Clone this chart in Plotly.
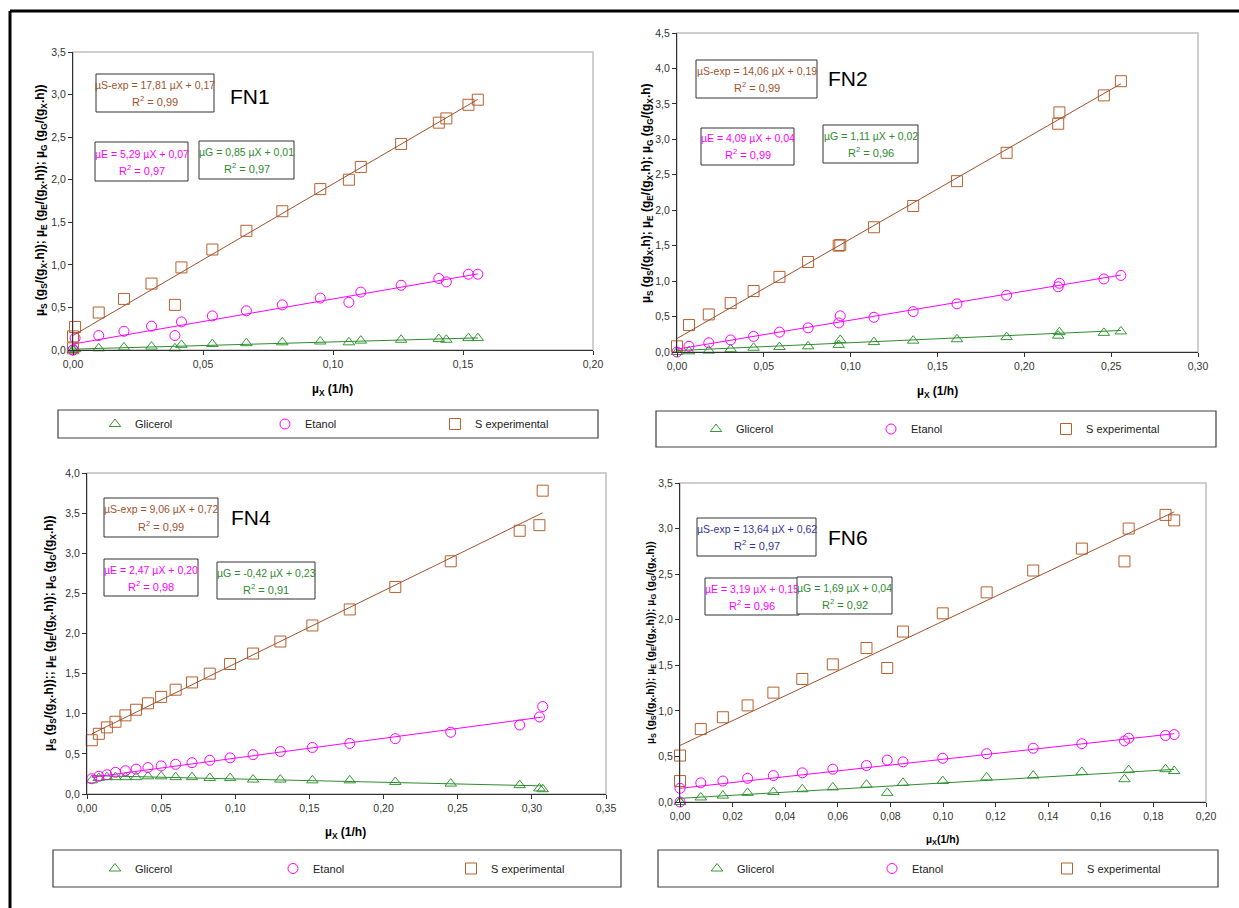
import plotly.graph_objects as go

W, H = 1239, 908
FONT = "Liberation Sans, Arial, sans-serif"

# ---------------- data ----------------
series_names = ["Glicerol", "Etanol", "S experimental"]

# FN1
fn1_x = [0.0, 0.0, 0.0008, 0.0099, 0.0196, 0.0302, 0.0392, 0.0417, 0.0536, 0.0667, 0.0805,
         0.0951, 0.1061, 0.1107, 0.1262, 0.1407, 0.1436, 0.1521, 0.1557]
fn1_s = [0.02, 0.16, 0.27, 0.44, 0.60, 0.78, 0.53, 0.97, 1.18, 1.40, 1.63,
         1.89, 2.00, 2.15, 2.42, 2.67, 2.72, 2.88, 2.94]
fn1_e = [0.0, 0.0, 0.14, 0.17, 0.22, 0.28, 0.17, 0.33, 0.40, 0.46, 0.53,
         0.61, 0.56, 0.68, 0.76, 0.84, 0.80, 0.89, 0.89]
fn1_g = [0.0, 0.0, 0.01, 0.02, 0.03, 0.04, 0.02, 0.06, 0.07, 0.08, 0.09,
         0.10, 0.09, 0.11, 0.12, 0.13, 0.12, 0.14, 0.14]
fn1_fit = {"S": (17.81, 0.17), "E": (5.29, 0.07), "G": (0.85, 0.01)}
fn1_r2 = ["0,99", "0,97", "0,97"]

# FN2
fn2_x = [0.0, 0.0069, 0.0183, 0.0309, 0.0441, 0.059, 0.0755, 0.0931, 0.094, 0.1134, 0.136,
         0.1612, 0.1898, 0.2195, 0.2202, 0.2458, 0.2556]
fn2_s = [0.08, 0.38, 0.53, 0.69, 0.86, 1.06, 1.27, 1.50, 1.51, 1.76, 2.06,
         2.41, 2.81, 3.22, 3.38, 3.62, 3.82]
fn2_e = [0.0, 0.08, 0.13, 0.17, 0.22, 0.28, 0.34, 0.41, 0.51, 0.49, 0.57,
         0.68, 0.80, 0.92, 0.97, 1.03, 1.08]
fn2_g = [0.0, 0.01, 0.02, 0.04, 0.06, 0.07, 0.08, 0.10, 0.17, 0.14, 0.16,
         0.18, 0.21, 0.23, 0.28, 0.27, 0.29]
fn2_fit = {"S": (14.06, 0.19), "E": (4.09, 0.04), "G": (1.11, 0.02)}
fn2_r2 = ["0,99", "0,99", "0,96"]

# FN4
fn4_x = [0.0032, 0.008, 0.0134, 0.0192, 0.0259, 0.0331, 0.0411, 0.05, 0.0598, 0.0708, 0.0828,
         0.0965, 0.112, 0.1304, 0.152, 0.1772, 0.2079, 0.2453, 0.2918, 0.3051, 0.3073]
fn4_s = [0.67, 0.75, 0.83, 0.90, 0.98, 1.05, 1.13, 1.21, 1.30, 1.39, 1.50,
         1.62, 1.75, 1.90, 2.10, 2.30, 2.58, 2.90, 3.28, 3.35, 3.78]
fn4_e = [0.19, 0.22, 0.24, 0.27, 0.29, 0.31, 0.33, 0.35, 0.37, 0.39, 0.42,
         0.45, 0.49, 0.53, 0.58, 0.63, 0.69, 0.77, 0.86, 0.96, 1.09]
fn4_g = [0.17, 0.20, 0.21, 0.21, 0.21, 0.21, 0.22, 0.22, 0.21, 0.21, 0.20,
         0.20, 0.18, 0.18, 0.17, 0.17, 0.15, 0.13, 0.11, 0.07, 0.06]
fn4_fit = {"S": (9.06, 0.72), "E": (2.47, 0.20), "G": (-0.42, 0.23)}
fn4_r2 = ["0,99", "0,98", "0,91"]

# FN6
fn6_x = [0.0, 0.0, 0.0079, 0.0163, 0.0257, 0.0355, 0.0465, 0.0581, 0.0709, 0.0788, 0.0848,
         0.0999, 0.1166, 0.1343, 0.1528, 0.169, 0.1706, 0.1846, 0.1879]
fn6_s = [0.51, 0.23, 0.80, 0.93, 1.06, 1.20, 1.35, 1.51, 1.69, 1.47, 1.87,
         2.07, 2.30, 2.54, 2.78, 2.64, 3.00, 3.15, 3.09]
fn6_e = [0.0, 0.15, 0.21, 0.23, 0.26, 0.29, 0.32, 0.36, 0.40, 0.46, 0.44,
         0.48, 0.53, 0.59, 0.64, 0.67, 0.70, 0.73, 0.74]
fn6_g = [0.0, 0.0, 0.05, 0.07, 0.10, 0.11, 0.14, 0.16, 0.19, 0.10, 0.21,
         0.23, 0.27, 0.29, 0.33, 0.25, 0.35, 0.36, 0.34]
fn6_fit = {"S": (13.64, 0.62), "E": (3.19, 0.15), "G": (1.69, 0.04)}
fn6_r2 = ["0,97", "0,96", "0,92"]

# ---------------- styles / layout ----------------
C_S, C_SL = "#b8602f", "#a0522d"
C_E, C_EL = "#ff00ff", "#ff00ff"
C_G, C_GL = "#339933", "#2e8b2e"

ytitle_a = ("µ<sub>S</sub> (g<sub>S</sub>/(g<sub>X</sub>.h)); µ<sub>E</sub> (g<sub>E</sub>/(g<sub>X</sub>.h)); "
            "µ<sub>G</sub> (g<sub>G</sub>/(g<sub>X</sub>.h))")
ytitle_b = ("µ<sub>S</sub> (g<sub>S</sub>/(g<sub>X</sub>.h); µ<sub>E</sub> (g<sub>E</sub>/(g<sub>X</sub>.h); "
            "µ<sub>G</sub> (g<sub>G</sub>/(g<sub>X</sub>.h)")
ytitle_c = ("µ<sub>S</sub> (g<sub>S</sub>/(g<sub>X</sub>.h));; µ<sub>E</sub> (g<sub>E</sub>/(g<sub>X</sub>.h)); "
            "µ<sub>G</sub> (g<sub>G</sub>/(g<sub>X</sub>.h))")

panels = [
    dict(label="FN1", x=fn1_x, s=fn1_s, e=fn1_e, g=fn1_g, fit=fn1_fit, r2=fn1_r2,
         xr=0.20, xd=0.05, yr=3.5,
         box=(73, 593, 52, 350), leg=(58, 598, 410, 438), legx=125, legsp=170,
         xt=("µ<sub>X</sub> (1/h)", 333, 390, 12), yt=(ytitle_a, 41, 200, 12),
         name=(250, 96), scol=C_SL,
         ann=[(96, 214, 74, 112), (95, 188, 142, 181), (199, 294, 141, 179)]),
    dict(label="FN2", x=fn2_x, s=fn2_s, e=fn2_e, g=fn2_g, fit=fn2_fit, r2=fn2_r2,
         xr=0.30, xd=0.05, yr=4.5,
         box=(677, 1198, 33, 352), leg=(656, 1216, 411, 447), legx=726, legsp=175,
         xt=("µ<sub>X</sub> (1/h)", 937, 392, 12), yt=(ytitle_b, 647, 193, 12),
         name=(848, 78), scol=C_SL,
         ann=[(696, 817, 60, 98), (701, 794, 128, 165), (823, 918, 125, 163)]),
    dict(label="FN4", x=fn4_x, s=fn4_s, e=fn4_e, g=fn4_g, fit=fn4_fit, r2=fn4_r2,
         xr=0.35, xd=0.05, yr=4.0,
         box=(87, 606, 473, 794), leg=(53, 621, 850, 887), legx=125, legsp=178,
         xt=("µ<sub>X</sub> (1/h)", 345, 833, 12), yt=(ytitle_c, 50, 633, 12),
         name=(251, 517), scol=C_SL,
         ann=[(104, 218, 498, 537), (104, 198, 559, 596), (217, 315, 562, 599)]),
    dict(label="FN6", x=fn6_x, s=fn6_s, e=fn6_e, g=fn6_g, fit=fn6_fit, r2=fn6_r2,
         xr=0.20, xd=0.02, yr=3.5,
         box=(680, 1206, 483, 802), leg=(658, 1218, 850, 887), legx=727, legsp=175,
         xt=("µ<sub>X</sub>(1/h)", 942, 840, 10.5), yt=(ytitle_a, 651, 643, 10.5),
         name=(848, 537), scol="#333399",
         ann=[(697, 816, 518, 556), (705, 799, 578, 615), (797, 892, 577, 614)]),
]


def fmt(v, nd):
    return f"{v:.{nd}f}".replace(".", ",")


def px(xp):
    return xp / W


def py(yp):
    return 1 - yp / H


fig = go.Figure()
layout = dict(width=W, height=H, margin=dict(l=0, r=0, t=0, b=0, autoexpand=False),
              paper_bgcolor="white", plot_bgcolor="white", separators=",.",
              showlegend=True, annotations=[], shapes=[])

for i, p in enumerate(panels, start=1):
    xa = "x" if i == 1 else f"x{i}"
    ya = "y" if i == 1 else f"y{i}"
    lg = "legend" if i == 1 else f"legend{i}"
    x0, x1, y0, y1 = p["box"]
    xs = p["x"]
    xmin, xmax = min(xs), max(xs)
    for key, vals, name, sym, mc, lc, sz in [
        ("G", p["g"], "Glicerol", "triangle-up-open", C_G, C_GL, 10),
        ("E", p["e"], "Etanol", "circle-open", C_E, C_EL, 10),
        ("S", p["s"], "S experimental", "square-open", C_S, C_SL, 11),
    ]:
        fig.add_trace(go.Scatter(x=xs, y=vals, mode="markers", name=name, legend=lg,
                                 xaxis=xa, yaxis=ya, cliponaxis=False,
                                 marker=dict(symbol=sym, size=sz, color=mc, line=dict(width=1, color=mc))))
        m, b = p["fit"][key]
        fig.add_trace(go.Scatter(x=[xmin, xmax], y=[m * xmin + b, m * xmax + b], mode="lines",
                                 showlegend=False, xaxis=xa, yaxis=ya, cliponaxis=False,
                                 line=dict(color=lc, width=1), hoverinfo="skip"))

    axcommon = dict(showgrid=False, zeroline=False, showline=True, linecolor="#303030", linewidth=1,
                    ticks="outside", ticklen=4, tickcolor="#303030",
                    tickfont=dict(family=FONT, size=10.5, color="#333333"))
    layout["xaxis" if i == 1 else f"xaxis{i}"] = dict(
        domain=[px(x0), px(x1)], anchor=ya, range=[0, p["xr"]], dtick=p["xd"], tick0=0,
        tickformat=".2f", **axcommon)
    layout["yaxis" if i == 1 else f"yaxis{i}"] = dict(
        domain=[py(y1), py(y0)], anchor=xa, range=[0, p["yr"]], dtick=0.5, tick0=0,
        tickformat=".1f", **axcommon)

    # plot area border (light gray top/right)
    layout["shapes"].append(dict(type="rect", xref="paper", yref="paper", layer="below",
                                 x0=px(x0), x1=px(x1), y0=py(y1), y1=py(y0),
                                 line=dict(color="#c0c0c0", width=1.5)))
    # legend box
    lx0, lx1, ly0, ly1 = p["leg"]
    layout["shapes"].append(dict(type="rect", xref="paper", yref="paper",
                                 x0=px(lx0), x1=px(lx1), y0=py(ly1), y1=py(ly0),
                                 line=dict(color="#404040", width=1.2)))
    layout[lg] = dict(orientation="h", x=px(p["legx"] - 30), xanchor="left",
                      y=py((ly0 + ly1) / 2), yanchor="middle",
                      entrywidth=p["legsp"] - 45, entrywidthmode="pixels",
                      bgcolor="rgba(0,0,0,0)", borderwidth=0, itemclick=False,
                      font=dict(family=FONT, size=11, color="#222222"))

    # equation boxes: rectangle + two text lines
    labs = {"S": "µS-exp", "E": "µE", "G": "µG"}
    for (key, col), (bx0, bx1, by0, by1), rr in zip(
            [("S", p["scol"]), ("E", C_E), ("G", C_GL)], p["ann"], p["r2"]):
        m, b = p["fit"][key]
        sign = "+" if b >= 0 else "-"
        line1 = f"{labs[key]} = {fmt(m, 2)} µX {sign} {fmt(abs(b), 2)}"
        layout["shapes"].append(dict(type="rect", xref="paper", yref="paper",
                                     x0=px(bx0), x1=px(bx1), y0=py(by1), y1=py(by0),
                                     line=dict(color="#333333", width=1), fillcolor="white"))
        cx = (bx0 + bx1) / 2
        cy = (by0 + by1) / 2
        layout["annotations"].append(dict(
            text=line1, x=px(cx), y=py(cy - 8), xref="paper", yref="paper",
            xanchor="center", yanchor="middle", showarrow=False,
            font=dict(family=FONT, size=10.5, color=col)))
        layout["annotations"].append(dict(
            text=f"R<sup>2</sup> = {rr}", x=px(cx), y=py(cy + 8), xref="paper", yref="paper",
            xanchor="center", yanchor="middle", showarrow=False,
            font=dict(family=FONT, size=11, color=col)))
    # panel name
    nx, ny = p["name"]
    layout["annotations"].append(dict(text=p["label"], x=px(nx), y=py(ny), xref="paper", yref="paper",
                                      xanchor="center", yanchor="middle", showarrow=False,
                                      font=dict(family=FONT, size=21, color="black")))
    # axis titles
    t, tx, ty, fs = p["xt"]
    layout["annotations"].append(dict(text=f"<b>{t}</b>", x=px(tx), y=py(ty), xref="paper", yref="paper",
                                      xanchor="center", yanchor="middle", showarrow=False,
                                      font=dict(family=FONT, size=fs, color="black")))
    t, tx, ty, fs = p["yt"]
    layout["annotations"].append(dict(text=f"<b>{t}</b>", x=px(tx), y=py(ty), xref="paper", yref="paper",
                                      xanchor="center", yanchor="middle", showarrow=False, textangle=-90,
                                      font=dict(family=FONT, size=fs, color="black")))

# outer frame lines
layout["shapes"].append(dict(type="line", xref="paper", yref="paper", x0=px(10), x1=1.0,
                             y0=py(11), y1=py(11), line=dict(color="black", width=3)))
layout["shapes"].append(dict(type="line", xref="paper", yref="paper", x0=px(10), x1=px(10),
                             y0=py(11), y1=0, line=dict(color="black", width=3)))

fig.update_layout(**layout)
fig.write_html("out.html", config={"displayModeBar": False},
               post_script="document.body.style.margin='0';")
